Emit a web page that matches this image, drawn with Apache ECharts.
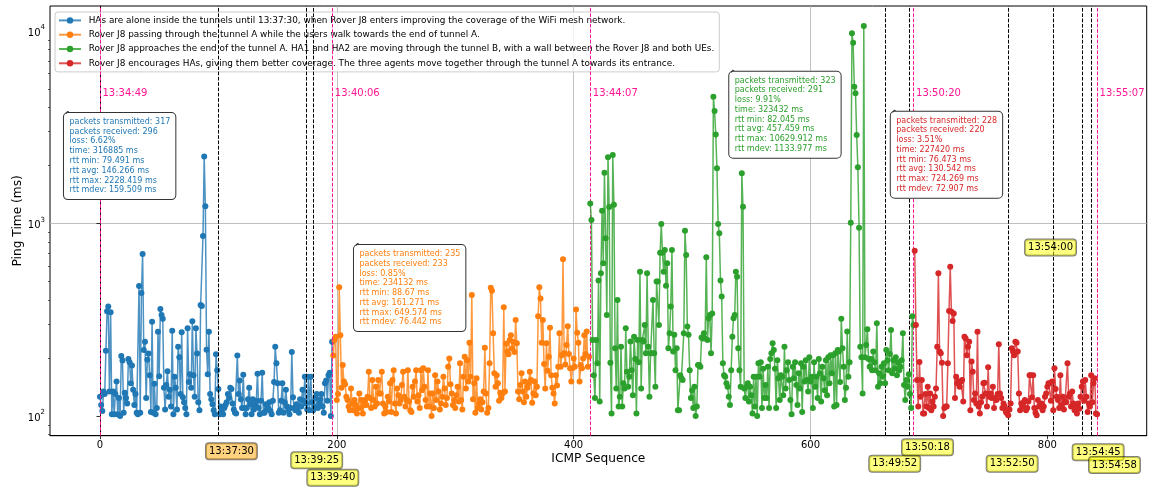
<!DOCTYPE html>
<html><head><meta charset="utf-8">
<script src="https://cdn.jsdelivr.net/npm/echarts@6/dist/echarts.min.js"></script>
<style>html,body{margin:0;padding:0;background:#fff}#c{width:1151px;height:487px}</style>
</head><body><div id="c"></div>
<script>
// ---------------- DATA ----------------
const seriesNames = [
  'HAs are alone inside the tunnels until 13:37:30, when Rover J8 enters improving the coverage of the WiFi mesh network.',
  'Rover J8 passing through the tunnel A while the users walk towards the end of tunnel A.',
  'Rover J8 approaches the end of the tunnel A. HA1 and HA2 are moving through the tunnel B, with a wall between the Rover J8 and both UEs.',
  'Rover J8 encourages HAs, giving them better coverage. The three agents move together through the tunnel A towards its entrance.'
];
const blueStart = 0;
const blueValues = [
  126,114,106,134,130,218,350,370,134,346,
  102,134,102,130,151,102,124,100,205,194,
  104,132,124,116,198,190,148,183,137,114,
  130,104,102,473,104,435,695,220,243,124,
  196,211,163,105,309,104,147,102,110,274,
  161,360,335,320,140,108,145,171,126,137,
  112,277,102,160,140,108,229,202,130,272,
  125,118,110,102,286,150,165,140,311,163,
  126,286,211,118,107,377,373,860,2228,1230,
  221,165,274,130,122,115,107,102,209,173,
  138,102,112,107,102,110,114,118,130,124,
  140,138,116,108,104,103,206,130,153,122,
  110,164,110,102,110,122,140,115,102,122,
  108,114,120,166,110,102,120,168,104,104,
  115,108,110,118,106,102,120,150,229,188,
  148,104,107,120,148,104,118,137,112,107,
  102,110,215,125,110,107,115,110,104,122,
  112,137,120,160,116,108,160,107,160,118,
  107,112,124,130,110,117,122,130,112,104,
  148,153,120,163,168,100,243
];
const orangeStart = 197;
const orangeValues = [
  206,248,258,121,130,467,263,140,184,151,
  146,126,121,112,107,139,116,107,121,114,
  103,110,131,110,121,103,114,121,114,126,
  170,124,110,154,121,112,142,116,154,131,
  131,170,116,103,112,105,126,119,148,105,
  154,173,116,103,139,128,116,121,145,170,
  126,112,121,173,119,107,105,142,126,151,
  173,119,128,110,173,136,177,142,121,112,
  173,112,131,100,131,110,163,121,151,134,
  108,116,126,160,139,114,124,180,199,146,
  131,114,121,110,128,142,119,188,121,108,
  160,203,139,195,151,240,160,425,122,148,
  104,157,110,116,122,108,118,134,226,131,
  104,110,188,464,448,269,167,142,163,148,
  120,132,124,131,367,134,237,216,209,248,
  263,224,243,215,315,239,134,122,145,167,
  134,118,151,126,140,148,170,154,117,131,
  151,128,142,330,467,408,240,315,186,139,
  239,172,203,287,163,140,131,116,163,144,
  180,269,180,207,652,212,185,234,293,210,
  177,151,177,199,180,358,271,240,151,184,
  177,199,263,210,275,180,203
];
const greenStart = 414;
const greenValues = [
  1270,1043,248,163,124,248,188,505,119,551,
  1166,621,1835,838,335,2210,1220,189,103,2270,
  1250,225,139,401,112,126,229,112,148,139,
  286,170,142,160,244,173,128,258,198,103,
  248,190,562,139,248,244,297,212,551,229,
  126,212,212,401,212,142,499,499,297,705,
  994,705,562,728,475,621,225,269,370,728,
  216,264,173,225,107,107,163,157,154,269,
  918,686,292,264,173,124,136,110,142,100,
  112,184,184,180,256,253,269,253,667,248,
  322,335,212,341,4560,3840,2900,1935,994,889,
  505,418,188,163,160,148,142,126,114,173,
  258,322,335,562,529,225,173,142,1823,1223,
  139,124,142,148,119,142,128,103,160,112,
  160,100,188,160,190,110,176,124,145,124,
  180,110,198,212,239,220,176,110,195,157,
  121,163,160,128,229,139,173,190,154,121,
  102,180,157,190,145,114,167,139,188,105,
  180,151,195,154,134,202,151,160,110,190,
  142,160,124,198,167,119,180,157,136,195,
  128,202,148,207,167,207,112,212,114,220,
  216,150,320,225,180,121,140,275,160,190,
  1010,9730,8700,5140,4750,2880,1960,950,229,202,
  131,10630,202,234,282,198,180,198,173,216,
  190,173,303,142,167,148,180,160,188,148,
  220,195,173,210,280,167,195,176,202,163,
  190,173,180,195,269,145,121,154,142,165,
  130,110,330,297
];
const redStart = 688;
const redValues = [
  721,297,154,112,191,126,154,103,103,130,
  112,142,110,131,107,119,112,126,139,229,
  551,216,212,189,100,110,112,112,188,351,
  596,348,312,341,124,160,148,151,142,151,
  154,119,258,253,207,229,243,107,192,170,
  121,131,116,274,112,103,118,126,148,149,
  131,112,179,126,131,124,142,110,124,121,
  130,236,131,124,110,116,112,105,103,101,
  108,116,225,216,207,243,240,216,131,107,
  116,112,118,121,107,110,119,163,163,125,
  163,110,104,101,121,112,112,116,107,112,
  126,131,142,148,148,120,151,107,177,138,
  126,121,110,163,114,126,108,119,118,188,
  126,131,112,134,116,107,110,103,116,109,
  126,142,151,120,154,126,105,116,112,163,
  118,148,157,103,102
];
const xTicks = [0, 200, 400, 600, 800];
const yTicks = [100, 1000, 10000];
const yMinorTicks = [80, 90, 200, 300, 400, 500, 600, 700, 800, 900, 2000, 3000, 4000, 5000, 6000, 7000, 8000, 9000];
const phaseLines = [0, 196.2, 414.1, 687, 842];
const phaseLabels = ['13:34:49', '13:40:06', '13:44:07', '13:50:20', '13:55:07'];
const eventLines = [99.9, 174, 180, 663.5, 683.8, 767.2, 805.2, 829.7, 836.7];
const eventLabels = ['13:37:30', '13:39:25', '13:39:40', '13:49:52', '13:50:18', '13:52:50', '13:54:00', '13:54:45', '13:54:58'];
const statsTexts = [
  ['packets transmitted: 317','packets received: 296','loss: 6.62%','time: 316885 ms','rtt min: 79.491 ms','rtt avg: 146.266 ms','rtt max: 2228.419 ms','rtt mdev: 159.509 ms'],
  ['packets transmitted: 235','packets received: 233','loss: 0.85%','time: 234132 ms','rtt min: 88.67 ms','rtt avg: 161.271 ms','rtt max: 649.574 ms','rtt mdev: 76.442 ms'],
  ['packets transmitted: 323','packets received: 291','loss: 9.91%','time: 323432 ms','rtt min: 82.045 ms','rtt avg: 457.459 ms','rtt max: 10629.912 ms','rtt mdev: 1133.977 ms'],
  ['packets transmitted: 228','packets received: 220','loss: 3.51%','time: 227420 ms','rtt min: 76.473 ms','rtt avg: 130.542 ms','rtt max: 724.269 ms','rtt mdev: 72.907 ms']
];

// ---------------- LAYOUT / STYLE ----------------
const FONT = 'DejaVu Sans';
const colors = ['#1f77b4', '#ff7f0e', '#2ca02c', '#d62728'];
const PINK = '#ff1493';
const phaseLabelY = 4766;                          // data-y of the pink time labels
const eventAnchors = [[111.0,65.6,'o'],[183.0,58.9,'y'],[196.6,47.8,'y'],[671.1,56.5,'y'],[698.8,68.8,'y'],[770.3,56.5,'y'],[802.7,750,'y'],[842.9,64.9,'y'],[856.7,55.7,'y']];
const statsAnchors = [[-30.4,3750],[214.5,773],[531.4,6145],[667.8,3809]]; // top-left corner of stats boxes (data coords)

const starts = [blueStart, orangeStart, greenStart, redStart];
const valueSets = [blueValues, orangeValues, greenValues, redValues];

const chart = echarts.init(document.getElementById('c'), null, {renderer: 'canvas', width: 1151, height: 487});

const series = valueSets.map((vals, k) => ({
  name: seriesNames[k], type: 'line',
  data: vals.map((v, i) => [starts[k] + i, v]),
  symbol: 'circle', symbolSize: 6, showSymbol: true, showAllSymbol: true,
  itemStyle: {color: colors[k]},
  lineStyle: {color: colors[k], width: 1.5, opacity: 0.8},
  emphasis: {disabled: true}, silent: true, z: 3 + k
}));
series[3].markLine = {
  silent: true, symbol: ['none', 'none'], label: {show: false}, animation: false,
  data: eventLines.map(v => ({xAxis: v, lineStyle: {color: '#000', type: [3.7, 1.6], width: 1}}))
    .concat(phaseLines.map(v => ({xAxis: v, lineStyle: {color: PINK, type: [3.7, 1.6], width: 1}})))
};

const gridLineStyle = {color: '#b0b0b0', width: 0.8};
const option = {
  animation: false,
  textStyle: {fontFamily: FONT},
  grid: {left: 50, top: 6, width: 1096.7, height: 429.7, show: true, borderColor: '#000', borderWidth: 1,
         containLabel: false, outerBoundsMode: 'none'},
  legend: {
    left: 55, top: 12, orient: 'vertical', itemWidth: 22, itemHeight: 8, itemGap: 4.3,
    padding: [3.4, 5, 3.6, 3], backgroundColor: 'rgba(255,255,255,0.8)', borderColor: '#cccccc', borderWidth: 1, borderRadius: 3,
    textStyle: {fontSize: 8.9, color: '#000', lineHeight: 10, padding: [0, 0, 0, 2.7], fontFamily: FONT},
    data: seriesNames, selectedMode: false
  },
  xAxis: {
    type: 'value', min: -42.2, max: 883.9,
    name: 'ICMP Sequence', nameLocation: 'middle', nameGap: 17.5, nameMoveOverlap: false,
    nameTextStyle: {fontSize: 12.2, color: '#000', fontFamily: FONT},
    axisLine: {lineStyle: {color: '#000', width: 1}},
    axisTick: {customValues: xTicks, length: 3.5, lineStyle: {color: '#000', width: 0.8}},
    axisLabel: {customValues: xTicks, fontSize: 10, color: '#000', margin: 4.5, fontFamily: FONT},
    splitLine: {show: true, showMinLine: false, showMaxLine: false, lineStyle: gridLineStyle}
  },
  yAxis: [{
    type: 'log', logBase: 10, min: 79.0, max: 13490,
    name: 'Ping Time (ms)', nameLocation: 'middle', nameGap: 26, nameRotate: 90, nameMoveOverlap: false,
    nameTextStyle: {fontSize: 12.2, color: '#000', fontFamily: FONT},
    axisLine: {show: true, lineStyle: {color: '#000', width: 1}},
    axisTick: {customValues: yTicks, length: 3.5, lineStyle: {color: '#000', width: 0.8}},
    axisLabel: {customValues: yTicks, margin: 5, color: '#000', fontSize: 10, fontFamily: FONT,
      formatter: v => '{b|10}{s|' + Math.round(Math.log10(v)) + '}',
      rich: {b: {fontSize: 10, fontFamily: FONT, color: '#000', lineHeight: 14, verticalAlign: 'bottom'},
             s: {fontSize: 7, fontFamily: FONT, color: '#000', lineHeight: 14, verticalAlign: 'top'}}},
    splitLine: {show: true, showMinLine: false, showMaxLine: false, lineStyle: gridLineStyle}
  }, {
    type: 'log', logBase: 10, min: 79.0, max: 13490, position: 'left',
    axisLine: {show: false},
    axisTick: {show: true, customValues: yMinorTicks, length: 2, lineStyle: {color: '#000', width: 0.6}},
    axisLabel: {show: false, customValues: yMinorTicks},
    splitLine: {show: false}
  }],
  series: series
};
chart.setOption(option);

// ---------------- ANNOTATIONS (placed through the chart's own scales) ----------------
const X = v => chart.convertToPixel({xAxisIndex: 0}, v);
const Y = v => chart.convertToPixel({yAxisIndex: 0}, v);
const graphics = [];
phaseLabels.forEach((t, i) => {
  graphics.push({type: 'text', z: 50, silent: true, x: X(phaseLines[i]) + 2.5, y: Y(phaseLabelY),
    style: {text: t, fill: PINK, fontSize: 10, fontFamily: FONT, align: 'left', verticalAlign: 'middle'}});
});
eventLabels.forEach((t, i) => {
  const a = eventAnchors[i];
  graphics.push({type: 'text', z: 60, silent: true, x: X(a[0]), y: Y(a[1]),
    style: {text: t, fill: '#000', fontSize: 10, fontFamily: FONT, align: 'center', verticalAlign: 'middle', lineHeight: 11,
      backgroundColor: a[2] === 'o' ? 'rgba(255,165,0,0.5)' : 'rgba(255,255,0,0.5)',
      borderColor: 'rgba(0,0,0,0.5)', borderWidth: 1, borderRadius: 3, padding: [2.5, 3, 2.5, 3]}});
});
statsTexts.forEach((lines, k) => {
  const bx = X(statsAnchors[k][0]), by = Y(statsAnchors[k][1]);
  graphics.push({type: 'text', z: 55, silent: true, x: bx, y: by,
    style: {text: lines.join('\n'), fill: colors[k], fontSize: 8, fontFamily: FONT, lineHeight: 9.76, align: 'left', verticalAlign: 'top',
      backgroundColor: '#fff', borderColor: '#333', borderWidth: 1, borderRadius: 4, padding: [4, 5, 4, 5.5]}});
  graphics.push({type: 'polyline', z: 56, silent: true,
    shape: {points: [[bx + 5, by - 1], [bx + 3.2, by - 1.6], [bx + 2, by + 0.8]]},
    style: {stroke: '#333', lineWidth: 1, fill: null}});
});
chart.setOption({graphic: graphics});
</script>
</body></html>
